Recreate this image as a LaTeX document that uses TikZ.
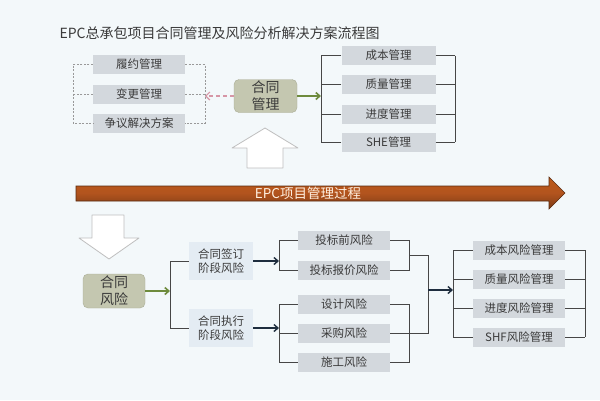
\documentclass[tikz,border=0pt]{standalone}
\usepackage{fontspec}
\newfontfamily\cjk{Noto Sans CJK SC}
\usetikzlibrary{arrows.meta}
\definecolor{paper}{RGB}{243,248,250}
\definecolor{ink}{RGB}{58,58,58}
\definecolor{itemfill}{RGB}{211,216,221}
\definecolor{stagefill}{RGB}{228,236,243}
\definecolor{hubfill}{RGB}{196,199,176}
\definecolor{hubedge}{RGB}{170,173,150}
\definecolor{linegray}{RGB}{70,70,70}
\definecolor{arrowgreen}{RGB}{110,139,61}
\definecolor{arrowpink}{RGB}{214,150,166}
\definecolor{arrownavy}{RGB}{30,45,62}
\definecolor{rust}{RGB}{178,84,30}
\tikzset{
  item/.style={fill=itemfill, text=ink, minimum width=92pt, minimum height=19pt,
    inner sep=0pt, font=\cjk\fontsize{11.5}{13}\selectfont},
  hub/.style={fill=hubfill, draw=hubedge, rounded corners=5pt, text=ink, align=center,
    minimum width=63pt, minimum height=33pt, inner sep=0pt, font=\cjk\fontsize{14}{17}\selectfont},
  stage/.style={fill=stagefill, text=ink, align=center, minimum width=64pt,
    minimum height=38pt, inner sep=0pt, font=\cjk\fontsize{11.5}{14.5}\selectfont},
  link/.style={draw=linegray, line width=0.8pt},
  dashlink/.style={draw=gray!80, line width=0.6pt, dash pattern=on 2pt off 1.5pt},
  hollow/.style={fill=white, draw=gray!50, line width=0.8pt, line join=round},
  greenarrow/.style={draw=arrowgreen, line width=1.6pt, -{Straight Barb[length=4pt,width=7pt]}},
  navyarrow/.style={draw=arrownavy, line width=1.4pt, -{Straight Barb[length=4pt,width=7pt]}},
}

\begin{document}
\begin{tikzpicture}[x=1pt,y=-1pt]
\fill[paper] (0,0) rectangle (600,400);
\node[anchor=west, text=ink, font=\cjk\fontsize{14}{16}\selectfont] (title) at (56,33)
  {EPC总承包项目合同管理及风险分析解决方案流程图};

% contract management
\node[hub] (htgl) at (265.5,96) {合同\\管理};
\foreach \t/\y [count=\i] in {履约管理/64.5, 变更管理/94, 争议解决方案/123}
  \node[item] (a\i) at (139,\y) {\t};
\coordinate (al) at (73,0);
\coordinate (ar) at (205,0);
\draw[dashlink] (a1.west) -- (a1.west -| al) -- (a3.west -| al) -- (a3.west);
\draw[dashlink] (a1.east) -- (a1.east -| ar) -- (a3.east -| ar) -- (a3.east);
\draw[dashlink] (a2.west) -- (a2.west -| al);
\draw[dashlink] (a2.east) -- (a2.east -| ar);
\draw[draw=arrowpink, line width=1.2pt, dash pattern=on 4pt off 3pt,
  -{Straight Barb[length=4pt,width=8pt]}] (htgl.west) -- (htgl.west -| ar);

\foreach \t/\y [count=\i] in {成本管理/55.5, 质量管理/84, 进度管理/114, SHE管理/142}
  \node[item, minimum width=94pt] (b\i) at (388.5,\y) {\t};
\coordinate (bl) at (321,0);
\coordinate (br) at (455,0);
\draw[link] (b1.west -| bl) -- (b4.west -| bl);
\draw[link] (b1.east -| br) -- (b4.east -| br);
\foreach \i in {1,...,4}
{
    \draw[link] (b\i.west) -- (b\i.west -| bl);
    \draw[link] (b\i.east) -- (b\i.east -| br);
}
\draw[greenarrow] (htgl.east) -- (htgl.east -| bl);

\draw[hollow] (265,128) -- (298,148) -- (283,148) -- (283,168) -- (247,168)
  -- (247,148) -- (232,148) -- cycle;

% process arrow
\shade[top color=rust!85!orange, bottom color=rust!70!black, middle color=rust,
  draw=rust!50!black, line width=0.6pt]
  (76,186) -- (549,186) -- (549,177) -- (565,193) -- (549,209) -- (549,201)
  -- (76,201) -- cycle;
\node[text=orange!12!white, font=\cjk\fontsize{13.5}{16}\selectfont] (gc) at (308,193.5)
  {EPC项目管理过程};

% contract risk
\draw[hollow] (92,215) -- (124,215) -- (124,238) -- (139,238) -- (109,259)
  -- (79,238) -- (92,238) -- cycle;
\node[hub, minimum width=62pt, minimum height=34pt] (htfx) at (114,291) {合同\\风险};
\node[stage] (qd) at (221,261) {合同签订\\阶段风险};
\node[stage] (zx) at (221,328) {合同执行\\阶段风险};
\coordinate (cl) at (170,0);
\draw[link] (qd.west) -- (qd.west -| cl) -- (zx.west -| cl) -- (zx.west);
\draw[greenarrow] (htfx.east) -- (htfx.east -| cl);

\foreach \t/\y [count=\i] in {投标前风险/240, 投标报价风险/270, 设计风险/304, 采购风险/333, 施工风险/362}
  \node[item] (c\i) at (344,\y) {\t};
\coordinate (dl) at (279,0);
\coordinate (dr) at (409,0);
\coordinate (jn) at (428,0);
\draw[link] (c1.west) -- (c1.west -| dl) -- (c2.west -| dl) -- (c2.west);
\draw[link] (c3.west) -- (c3.west -| dl) -- (c5.west -| dl) -- (c5.west);
\draw[link] (c4.west) -- (c4.west -| dl);
\draw[navyarrow] (qd.east) -- (qd.east -| dl);
\draw[navyarrow] (zx.east) -- (zx.east -| dl);
\draw[link] (c1.east) -- (c1.east -| dr) -- (c2.east -| dr) -- (c2.east);
\draw[link] (c3.east) -- (c3.east -| dr) -- (c5.east -| dr) -- (c5.east);
\coordinate (j1) at (409,255);
\coordinate (j2) at (428,290);
\draw[link] (j1) -- (j1 -| jn) -- (c4.east -| jn) -- (c4.east);

\foreach \t/\y [count=\i] in {成本风险管理/250, 质量风险管理/279, 进度风险管理/308, SHF风险管理/337}
  \node[item] (e\i) at (519,\y) {\t};
\coordinate (el) at (453,0);
\coordinate (er) at (585,0);
\draw[link] (e1.west -| el) -- (e4.west -| el);
\draw[link] (e1.east -| er) -- (e4.east -| er);
\foreach \i in {1,...,4}
{
    \draw[link] (e\i.west) -- (e\i.west -| el);
    \draw[link] (e\i.east) -- (e\i.east -| er);
}
\draw[navyarrow] (j2) -- (j2 -| el);
\end{tikzpicture}
\end{document}
